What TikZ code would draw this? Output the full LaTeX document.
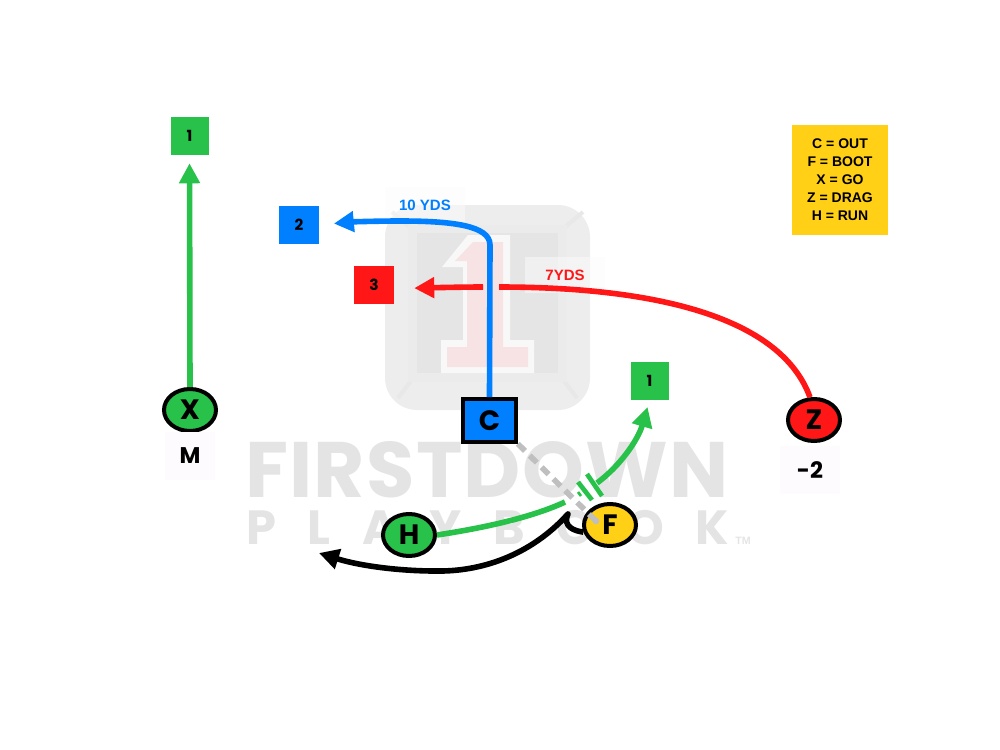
\documentclass[tikz,border=0pt]{standalone}
\usepackage{fontspec}
\usepackage{xcolor}
\usetikzlibrary{shapes.geometric,arrows.meta}
\setmainfont{Liberation Sans}
\newfontfamily\playfont{Poppins}[BoldFont=* Bold]
\newfontfamily\wordfont{Poppins}[BoldFont=* Bold,LetterSpace=1.6]
\newfontfamily\markfont{Poppins}[BoldFont=* Bold,LetterSpace=66]
\definecolor{routegreen}{HTML}{28C24A}
\definecolor{routeblue}{HTML}{0080FF}
\definecolor{routered}{HTML}{FF1616}
\definecolor{tagyellow}{HTML}{FFD016}
\definecolor{markgray}{HTML}{E4E4E4}
\definecolor{tagwhite}{HTML}{FDFBFD}
\definecolor{logored}{HTML}{F7E3E3}
\definecolor{logowhite}{HTML}{F9F8F8}
\tikzset{
    player/.style={draw=black, line width=3pt, ellipse, minimum width=39pt, minimum height=31.5pt, inner sep=0pt,
        font=\playfont\bfseries\fontsize{21}{21}\selectfont},
    target/.style={minimum width=28.5pt, minimum height=28.5pt, inner sep=0pt,
        font=\playfont\bfseries\fontsize{11.5}{11.5}\selectfont},
    route/.style={line width=4.2pt},
    yards/.style={fill=tagwhite, fill opacity=0.5, text opacity=1, minimum width=60pt, minimum height=27pt, inner sep=0pt,
        font=\bfseries\fontsize{11.25}{11.25}\selectfont},
    tag/.style={fill=tagwhite, minimum width=37pt, minimum height=36pt, inner sep=0pt,
        font=\playfont\bfseries\fontsize{17}{17}\selectfont}
}
\begin{document}
\begin{tikzpicture}[x=0.75pt, y=-0.75pt, >={Triangle[length=15pt,width=15pt]}]
\useasboundingbox (0,0) rectangle (1000,750);
\fill[black!7, rounded corners=24pt] (385,205) rectangle (590,410);
\draw[black!9, line width=3pt] (392,212) -- (417,233) (583,212) -- (558,233) (398,398) -- (417,373) (577,398) -- (558,373);
\fill[black!8] (408,225) rectangle (567,382);
\fill[black!10] (417,233) rectangle (558,373);
\fill[logowhite] (468,235) -- (510,235) -- (510,340) -- (534,340) -- (534,373) -- (441,373) -- (441,340) -- (463,340) -- (463,267) -- (442,267) -- cycle;
\fill[logored] (473,242) -- (503,242) -- (503,347) -- (528,347) -- (528,367) -- (447,367) -- (447,347) -- (467,347) -- (467,261) -- (455,261) -- cycle;
\node[anchor=west, inner sep=0pt, text=markgray, font=\wordfont\bfseries\fontsize{59}{59}\selectfont] (wordmark) at (245,470) {FIRSTDOWN};
\node[anchor=west, inner sep=0pt, text=markgray, font=\markfont\bfseries\fontsize{36}{36}\selectfont] (subword) at (246,528) {PLAYBOOK};
\node[inner sep=0pt, text=markgray, font=\bfseries\fontsize{8}{8}\selectfont] (tmark) at (743,541) {TM};
\node[target, fill=routegreen] (xTarget) at (189.5,136) {1};
\node[target, fill=routeblue, minimum width=30pt] (cTarget) at (299,225) {2};
\node[target, fill=routered, minimum width=30pt] (zTarget) at (374,285) {3};
\node[target, fill=routegreen] (fTarget) at (649.5,381) {1};
\node[player, fill=routegreen] (X) at (190,410) {X};
\node[player, fill=routered] (Z) at (814,420) {Z};
\node[player, fill=routegreen] (H) at (409,535) {H};
\node[player, fill=tagyellow] (F) at (610,525) {F};
\node[draw=black, line width=3pt, fill=routeblue, minimum width=39.5pt, minimum height=32pt, inner sep=0pt,
    font=\playfont\bfseries\fontsize{21}{21}\selectfont] (C) at (489.5,420.5) {C};
\node[tag] (xTag) at (190,456) {M};
\node[tag, minimum width=45pt] (zTag) at (810,470) {-2};
\node[yards, text=routeblue] (cYards) at (425,205) {10 YDS};
\node[yards, text=routered] (zYards) at (565,275) {7YDS};
\node[fill=tagyellow, minimum width=72pt, minimum height=82.5pt, inner sep=0pt, align=center,
    font=\bfseries\fontsize{10.5}{13.5}\selectfont] (legend) at (840,180)
    {C = OUT\\F = BOOT\\X = GO\\Z = DRAG\\H = RUN};
\coordinate (gapRight) at (499,287);
\coordinate (gapLeft) at (483,287);
\coordinate (handoffLeft) at (565,502);
\coordinate (handoffRight) at (597,483);
\coordinate (motionEnd) at (596,521);
\coordinate (cusp) at (568,514);
\coordinate (runEnd) at (319,553);
\draw[->, route, routegreen, shorten >=6pt] (X.north) -- (xTarget.south);
\draw[->, route, routeblue, shorten >=11pt] (C.north) -- (490,245) .. controls (490,225) and (450,221) .. (400,221) .. controls (375,221) and (350,222) .. (cTarget.east);
\draw[route, routered] (Z.100) .. controls (780,315) and (650,287) .. (gapRight);
\draw[->, route, routered, shorten >=15pt] (gapLeft) .. controls (460,287) and (420,288) .. (zTarget.-10);
\draw[route, routegreen] (H.east) .. controls (490,527) and (535,516) .. (handoffLeft);
\draw[->, route, routegreen, shorten >=5.25pt] (handoffRight) .. controls (620,466) and (638,440) .. (fTarget.south);
\draw[routegreen, line width=3.5pt] (578,482) -- (592,500) (587,474) -- (602,496);
\draw[routegreen, line width=2pt] (578,492) -- (581,496);
\draw[route, black!25, dash pattern=on 7.5pt off 5pt] (C.south east) -- (motionEnd);
\fill[black!25] (motionEnd) circle (2.5pt);
\draw[->, route, black, line join=round] (F.195) .. controls (575,531) and (562,527) .. (cusp) .. controls (530,556) and (480,572) .. (435,571) .. controls (400,571) and (360,566) .. (runEnd);
\end{tikzpicture}
\end{document}
